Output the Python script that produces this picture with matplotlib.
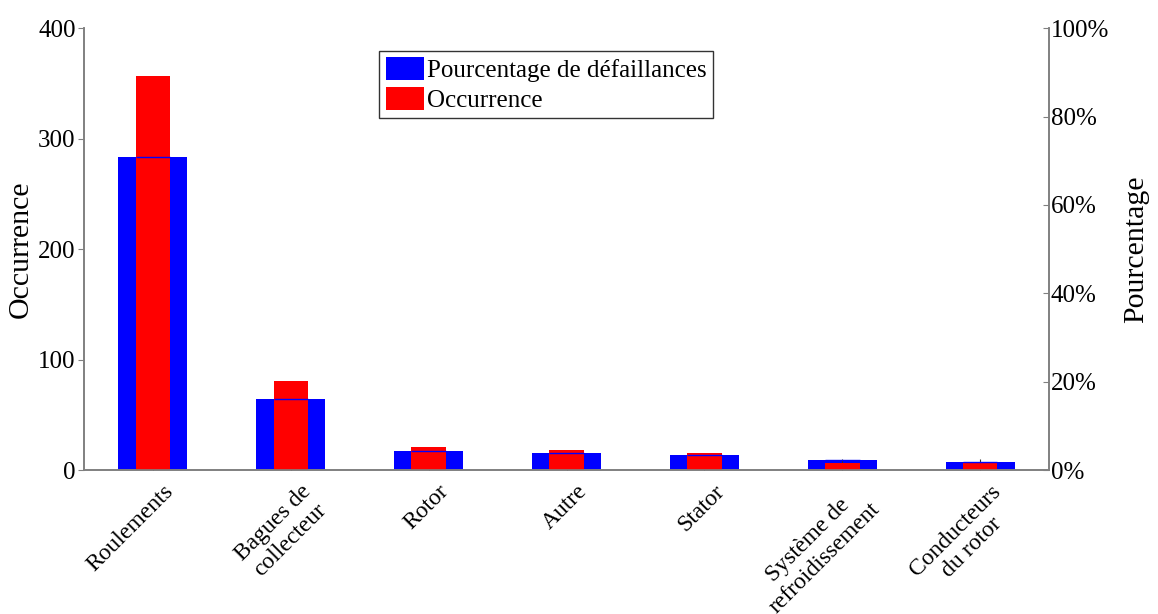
import matplotlib
matplotlib.use('Agg')
import matplotlib.pyplot as plt
import numpy as np

'''occurrence and percentage of failures by component'''

categories = ['Roulements', 'Bagues de\ncollecteur', 'Rotor', 'Autre', 'Stator',
              'Système de\nrefroidissement', 'Conducteurs\ndu rotor']
occurrence = [357, 81, 21, 18, 15, 6, 6.5]
pourcentage = [70.8, 16.0, 4.2, 3.8, 3.3, 2.2, 1.75]

plt.rcParams['font.family'] = ['Liberation Serif', 'DejaVu Serif']

gray = '#808080'
x = np.arange(1, len(categories) + 1)

fig = plt.figure(figsize=(11.58, 6.14), dpi=100)
ax = fig.add_axes([0.0725, 0.2345, 0.8335, 0.7195])
ax2 = ax.twinx()
ax.set_zorder(ax2.get_zorder() + 1)
ax.patch.set_visible(False)
ax.set_axisbelow(True)

# blue bars on the percentage axis (behind)
b1 = ax2.bar(x, pourcentage, width=0.5, color='blue', label='Pourcentage de défaillances')
# red bars on the occurrence axis (front)
b2 = ax.bar(x, occurrence, width=0.25, color='red', label='Occurrence')
# thin blue top edge of the percentage bars, drawn over the red ones
ax.hlines(np.array(pourcentage) * 4, x - 0.125, x + 0.125, colors='blue', lw=1, zorder=3)

ax.set_xlim(0.5, 7.5)
ax.set_ylim(0, 400)
ax2.set_ylim(0, 100)
ax.set_yticks([0, 100, 200, 300, 400])
ax2.set_yticks([0, 20, 40, 60, 80, 100])
ax2.set_yticklabels(['0%', '20%', '40%', '60%', '80%', '100%'])

# category labels, rotated, ending just right of each tick
ax.set_xticks(x)
ax.set_xticklabels([])
for xi, cat in zip(x, categories):
    ax.annotate(cat, (xi, 0), xycoords=('data', 'axes fraction'),
                xytext=(7, -8), textcoords='offset points',
                rotation=45, ha='right', va='top', rotation_mode='anchor',
                multialignment='center', fontsize=17, annotation_clip=False)

ax.tick_params(axis='x', direction='in', length=8, color='#333333')
ax.tick_params(axis='y', direction='out', length=4, color=gray, labelsize=18, pad=2)
ax2.tick_params(axis='y', direction='in', length=4, color=gray, labelsize=18, pad=1)

for a in (ax, ax2):
    a.spines['top'].set_visible(False)
    for s in ('left', 'right', 'bottom'):
        a.spines[s].set_color(gray)
        a.spines[s].set_linewidth(1.2)

ax.set_ylabel('Occurrence', fontsize=21.5, labelpad=3)
ax2.set_ylabel('Pourcentage', fontsize=21.5, labelpad=10)

leg = ax.legend([b1, b2], ['Pourcentage de défaillances', 'Occurrence'],
                loc='upper left', bbox_to_anchor=(0.306, 0.948), fontsize=18,
                fancybox=False, framealpha=1, edgecolor='#333333',
                handlelength=1.55, handleheight=1.0, handletextpad=0.1,
                borderpad=0.25, labelspacing=0.2, borderaxespad=0)
leg.get_frame().set_linewidth(1.0)

fig.savefig('out.png', dpi=100)
